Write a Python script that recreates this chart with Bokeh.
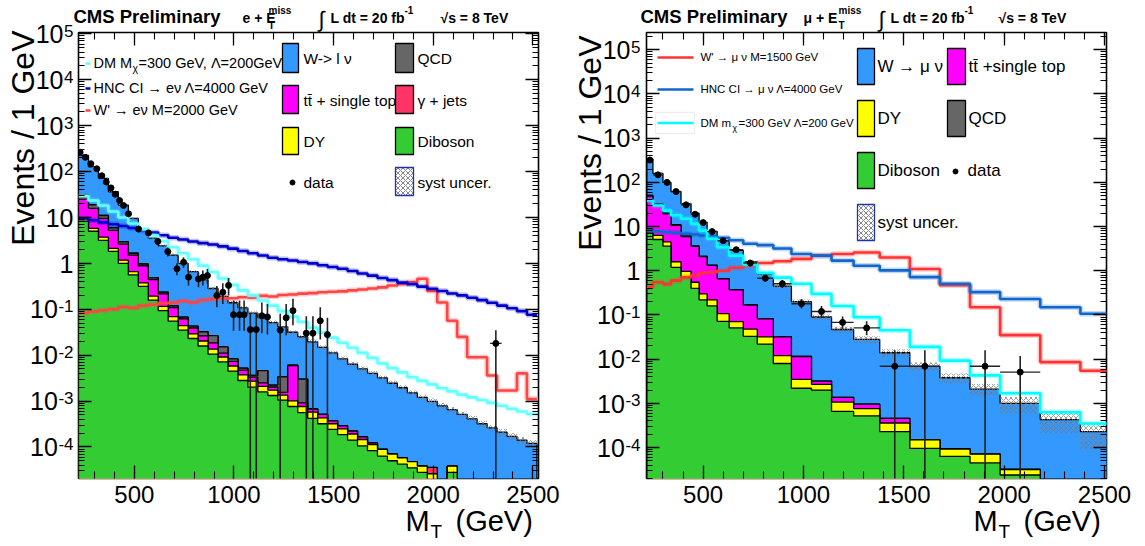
import math
from bokeh.plotting import figure
from bokeh.layouts import row
from bokeh.models import FixedTicker, LogAxis, LinearAxis, Range1d
from bokeh.core.properties import value
from bokeh.embed import file_html
from bokeh.resources import INLINE

FONT = "Liberation Sans"

# ---------------------------------------------------------------- left panel data (e + ETmiss)
L_EDGES = [220, 270, 320, 370, 420, 470, 520, 570, 620, 670, 720, 770, 820, 870, 920, 970,
           1020, 1070, 1120, 1170, 1220, 1270, 1320, 1370, 1420, 1470, 1520, 1570, 1620, 1670,
           1720, 1770, 1820, 1870, 1920, 1970, 2020, 2070, 2120, 2170, 2220, 2270, 2320, 2370,
           2420, 2470, 2520]
L_VV = [8.3, 5.0, 3.16, 1.82, 1.0, 0.56, 0.316, 0.158, 0.093, 0.055, 0.035, 0.023, 0.0158, 0.0105,
        0.0071, 0.0045, 0.0028, 0.0020, 0.00158, 0.00132, 0.00105, 0.00076, 0.00056, 0.00042,
        0.00032, 0.00024, 0.000186, 0.000141, 0.000105, 0.000083, 0.000063, 0.00005, 0.000042,
        0.000035, 0.000028, 0.000018, 0.0, 0.000028, 0, 0, 0, 0, 0, 0, 0, 0]
L_DY = [1.3, 0.8, 0.55, 0.3, 0.17, 0.1, 0.06, 0.035, 0.022, 0.014, 0.009, 0.006, 0.0045, 0.003,
        0.002, 0.0013, 0.0009, 0.0007, 0.0005, 0.0004, 0.0003, 0.00025, 0.0002, 0.00015, 0.00011,
        0.00008, 0.00006, 0.00005, 0.00004, 0.00003, 0.000025, 0.00002, 0.000016, 0.000013,
        0.00001, 0.000008, 0.000006, 0.00001, 0, 0, 0, 0, 0, 0, 0, 0]
L_TT = [15.5, 10.0, 5.8, 3.1, 1.46, 0.85, 0.51, 0.25, 0.10, 0.04, 0.018, 0.010, 0.006, 0.005,
        0.002, 0.0015, 0.001, 0.0006, 0.0004, 0.0003, 0.0002, 0.0049, 0.00015, 0.0001, 0.00008,
        0.00005, 0.00004, 0.00003, 0.00002, 0.00001, 0, 0, 0, 0, 0, 0, 0, 0, 0, 0, 0, 0, 0, 0, 0, 0]
L_QCD = [6, 3, 1.5, 0.7, 0.3, 0.15, 0.08, 0.04, 0.02, 0.01, 0.005, 0.004, 0.006, 0.008, 0.004,
         0.001, 0.0005, 0.0003, 0.0021, 0.0002, 0.0018, 0.0001, 0.0021, 0, 0, 0, 0, 0, 0, 0, 0,
         0, 0, 0, 0, 0, 0, 0, 0, 0, 0, 0, 0, 0, 0, 0]
L_GJ = [0.5, 0.2, 0.1, 0.05, 0.02, 0.01, 0.005, 0.002, 0.001, 0, 0, 0, 0, 0, 0, 0, 0, 0, 0, 0,
        0, 0, 0, 0, 0, 0, 0, 0, 0, 0, 0, 0, 0, 0, 0, 0.00001, 0, 0, 0, 0, 0, 0, 0, 0, 0, 0]
L_W = [192, 107, 59.7, 30.3, 15.6, 7.87, 4.27, 3.06, 2.17, 1.39, 0.933, 0.617, 0.405, 0.256,
       0.176, 0.130, 0.102, 0.079, 0.061, 0.049, 0.038, 0.0255, 0.0221, 0.0188, 0.0143, 0.0108,
       0.0080, 0.0061, 0.00484, 0.00387, 0.0031, 0.00237, 0.00189, 0.00146, 0.00116, 0.00095,
       0.00078, 0.00061, 0.00051, 0.00041, 0.00032, 0.00026, 0.00021, 0.00017, 0.00014, 0.00012]
L_SYST = [0.05, 0.05, 0.05, 0.06, 0.06, 0.06, 0.07, 0.07, 0.07, 0.08, 0.08, 0.08, 0.09, 0.09,
          0.09, 0.10, 0.10, 0.10, 0.10, 0.11, 0.11, 0.11, 0.11, 0.12, 0.12, 0.12, 0.12, 0.13,
          0.13, 0.13, 0.13, 0.14, 0.14, 0.14, 0.14, 0.15, 0.15, 0.15, 0.15, 0.16, 0.16, 0.16,
          0.17, 0.17, 0.18, 0.18]
L_DM = [29.5, 23.4, 18.2, 13.5, 10.0, 7.4, 5.5, 4.07, 3.02, 2.24, 1.66, 1.23, 0.89, 0.645, 0.468,
        0.339, 0.257, 0.20, 0.155, 0.120, 0.091, 0.069, 0.0525, 0.0398, 0.0309, 0.024, 0.0186,
        0.0145, 0.0112, 0.0087, 0.0066, 0.0052, 0.0042, 0.0033, 0.00275, 0.0023, 0.0019,
        0.00162, 0.00138, 0.0012, 0.00105, 0.00091, 0.00079, 0.00068, 0.00059, 0.00052]
L_HNC = [9.5, 8.7, 7.8, 7.1, 6.5, 5.9, 5.2, 4.7, 4.1, 3.6, 3.3, 3.0, 2.75, 2.57, 2.34, 2.09, 1.86,
         1.66, 1.48, 1.32, 1.23, 1.15, 1.07, 1.0, 0.91, 0.83, 0.76, 0.68, 0.60, 0.54, 0.48, 0.43,
         0.38, 0.35, 0.31, 0.28, 0.25, 0.22, 0.20, 0.178, 0.158, 0.138, 0.12, 0.105, 0.091, 0.076]
L_WP = [0.083, 0.089, 0.095, 0.10, 0.112, 0.107, 0.12, 0.126, 0.135, 0.138, 0.151, 0.141, 0.158,
        0.166, 0.17, 0.174, 0.182, 0.178, 0.195, 0.19, 0.204, 0.209, 0.219, 0.224, 0.234, 0.24,
        0.245, 0.257, 0.269, 0.282, 0.30, 0.33, 0.355, 0.39, 0.46, 0.25, 0.14, 0.056, 0.025,
        0.009, 0.009, 0.0036, 0.0017, 0.0017, 0.004, 0.0011]
L_DATA_X = [228, 254, 282, 312, 337, 359, 383, 404, 426, 446, 471, 521, 571, 618, 668, 714, 747,
            772, 822, 844, 867, 914, 944, 973, 998, 1028, 1051, 1082, 1112, 1140, 1168, 1232,
            1262, 1296, 1363, 1396, 1433, 1469, 2314]
L_DATA_Y = [263, 204, 148, 115, 81, 59, 44, 32, 23.4, 18.2, 12.0, 5.6, 4.6, 3.0, 1.8, 0.76, 1.05,
            0.50, 0.457, 0.50, 0.54, 0.20, 0.234, 0.33, 0.076, 0.076, 0.076, 0.036, 0.036, 0.072,
            0.068, 0.035, 0.065, 0.093, 0.030, 0.030, 0.056, 0.028, 0.018]
L_DATA_HI = [270, 210, 152, 119, 84, 62, 46.5, 34, 25, 19.7, 13.2, 6.4, 5.3, 3.5, 2.2, 1.0, 1.35,
             0.7, 0.64, 0.7, 0.75, 0.32, 0.37, 0.48, 0.155, 0.155, 0.155, 0.08, 0.08, 0.14, 0.13,
             0.08, 0.13, 0.17, 0.07, 0.07, 0.11, 0.065, 0.035]
L_DATA_LO = [256, 198, 144, 111, 78, 56, 41.5, 30, 21.8, 16.7, 10.8, 4.8, 3.9, 2.5, 1.4, 0.55, 0.8,
             0.33, 0.3, 0.33, 0.36, 0.11, 0.13, 0.2, 0.034, 0.034, 0.034, 1e-7, 1e-7, 0.03, 0.028,
             1e-7, 0.027, 0.045, 1e-7, 1e-7, 0.022, 1e-7, 1e-7]
L_DATA_XERR = [12, 12, 12, 12, 12, 12, 12, 12, 12, 12, 12, 12, 12, 12, 12, 12, 12, 12, 12, 12, 12,
               12, 12, 12, 12, 12, 12, 12, 12, 12, 12, 12, 12, 12, 12, 12, 12, 12, 29]

# ---------------------------------------------------------------- right panel data (mu + ETmiss)
R_EDGES = [220, 250, 300, 340, 390, 440, 480, 520, 570, 630, 700, 770, 850, 940, 1040, 1140,
           1250, 1380, 1530, 1680, 1830, 1980, 2180, 2380, 2580]
R_VV = [7.2, 5.1, 3.6, 1.2, 0.72, 0.40, 0.22, 0.16, 0.072, 0.051, 0.033, 0.022, 0.008, 0.0022,
        0.002, 6.6e-4, 5.2e-4, 2.3e-4, 9.6e-5, 6.3e-5, 4.5e-5, 2.4e-5, 0, 0]
R_DY = [1.5, 1.2, 0.9, 0.4, 0.25, 0.15, 0.08, 0.06, 0.035, 0.02, 0.015, 0.01, 0.004, 0.0013,
        7e-4, 4.1e-4, 2.4e-4, 1.3e-4, 5.4e-5, 3e-5, 2.6e-5, 8e-6, 0, 0]
R_TT = [40, 25, 15, 9, 5, 3.0, 1.8, 1.1, 0.55, 0.3, 0.12, 0.05, 0.02, 0.008, 0.0005, 0.0003,
        0.0002, 1e-4, 0, 0, 0, 0, 0, 0]
R_QCD = [3, 1.5, 0.8, 0.4, 0.2, 0.1, 0.05, 0.02, 0.01, 0.005, 0.002, 0.001, 0, 0, 0, 0, 0, 0,
         0, 0, 0, 0, 0, 0]
R_W = [288, 127, 79.7, 51, 26.8, 16.4, 10.35, 6.46, 4.13, 2.52, 1.43, 0.767, 0.418, 0.1885,
       0.0868, 0.0456, 0.0270, 0.01354, 0.00675, 0.00371, 0.00203, 0.00097, 0.00043, 0.00023]
R_SYST = [0.05, 0.05, 0.05, 0.05, 0.06, 0.06, 0.06, 0.07, 0.07, 0.08, 0.08, 0.09, 0.10, 0.12,
          0.14, 0.16, 0.18, 0.2, 0.22, 0.25, 0.3, 0.4, 0.5, 0.6]
R_DM = [39, 30, 23, 18, 15, 11.5, 8.1, 5.3, 3.4, 2.2, 1.4, 0.9, 0.7, 0.51, 0.30, 0.16, 0.089,
        0.045, 0.019, 0.0093, 0.0043, 0.0017, 6.3e-4, 3.5e-4]
R_HNC = [8.1, 7.8, 7.5, 7.2, 6.9, 6.6, 6.3, 6.0, 5.6, 4.9, 4.1, 3.8, 3.2, 2.4, 2.2, 1.7, 1.3,
         1.02, 0.72, 0.51, 0.33, 0.23, 0.15, 0.107]
R_WP = [0.43, 0.55, 0.50, 0.60, 0.71, 0.78, 0.89, 0.93, 1.0, 1.17, 1.3, 1.5, 1.65, 1.86, 2.2,
        2.4, 2.6, 2.0, 1.1, 0.47, 0.15, 0.035, 0.0086, 0.0055]
R_DATA_X = [235, 275, 320, 365, 415, 460, 500, 545, 600, 665, 735, 810, 895, 990, 1090, 1195,
            1315, 1455, 1605, 1905, 2080]
R_DATA_XLO = [220, 250, 300, 340, 390, 440, 480, 520, 570, 630, 700, 770, 850, 940, 1040, 1140,
              1250, 1380, 1530, 1830, 1980]
R_DATA_XHI = [250, 300, 340, 390, 440, 480, 520, 570, 630, 700, 770, 850, 940, 1040, 1140, 1250,
              1380, 1530, 1680, 1980, 2180]
R_DATA_Y = [320, 148, 100, 62, 31, 19, 12.3, 7.7, 4.8, 3.0, 1.5, 0.68, 0.51, 0.18, 0.12, 0.068,
            0.051, 0.0069, 0.0069, 0.0069, 0.0051]
R_DATA_HI = [330, 153, 104, 65, 33, 20.5, 13.5, 8.5, 5.4, 3.4, 1.75, 0.8, 0.62, 0.23, 0.16, 0.092,
             0.072, 0.016, 0.016, 0.016, 0.0118]
R_DATA_LO = [310, 143, 96, 59, 29, 17.5, 11.1, 6.9, 4.2, 2.6, 1.25, 0.56, 0.41, 0.14, 0.085,
             0.048, 0.035, 1e-7, 1e-7, 1e-7, 1e-7]

# ---------------------------------------------------------------- colours
C_W = "#3399ff"
C_TT = "#ff00ff"
C_DY = "#ffff00"
C_VV = "#33cc33"
C_QCD = "#666666"
C_GJ = "#ff3366"

FLOOR = 1e-7
Y_MAJOR = [1e-4, 1e-3, 1e-2, 1e-1, 1, 10, 100, 1e3, 1e4, 1e5]
Y_MINOR = [m * 10.0 ** e for e in range(-5, 6) for m in range(2, 10)]
X_MAJOR = [500, 1000, 1500, 2000, 2500]
X_MINOR = list(range(200, 2600, 100))


def stairs(edges, vals):
    xs, ys = [edges[0]], [FLOOR]
    for i, v in enumerate(vals):
        v = v if v > FLOOR else FLOOR
        xs += [edges[i], edges[i + 1]]
        ys += [v, v]
    xs.append(edges[-1])
    ys.append(FLOOR)
    return xs, ys


def step_xy(edges, vals):
    xs, ys = [], []
    for i, v in enumerate(vals):
        v = v if v > FLOOR else FLOOR
        xs += [edges[i], edges[i + 1]]
        ys += [v, v]
    return xs, ys


def style_axis(ax, tick_in=13, minor_in=7):
    ax.axis_line_color = None
    ax.major_tick_in = tick_in
    ax.major_tick_out = 0
    ax.minor_tick_in = minor_in
    ax.minor_tick_out = 0
    ax.major_tick_line_color = "black"
    ax.minor_tick_line_color = "black"
    ax.major_tick_line_width = 1.3
    ax.minor_tick_line_width = 1.1


def hide_labels(ax):
    ax.major_label_text_font_size = "1px"
    ax.major_label_text_color = None
    ax.major_label_standoff = 0


class Panel:
    def __init__(self, fl, ft, fw, fh, xr, yr, bl, br):
        self.fl, self.ft, self.fw, self.fh = fl, ft, fw, fh
        self.x0, self.x1 = xr
        self.l0, self.l1 = math.log10(yr[0]), math.log10(yr[1])
        p = figure(frame_width=fw, frame_height=fh, x_range=Range1d(*xr), y_range=Range1d(*yr),
                   y_axis_type="log", output_backend="svg", toolbar_location=None,
                   min_border_left=bl, min_border_right=br, min_border_top=ft,
                   min_border_bottom=68, background_fill_color="white",
                   border_fill_color="white")
        p.grid.visible = False
        p.outline_line_color = "black"
        p.outline_line_width = 1.6
        yt = FixedTicker(ticks=Y_MAJOR, minor_ticks=Y_MINOR)
        xt = FixedTicker(ticks=X_MAJOR, minor_ticks=X_MINOR)
        bx = p.xaxis[0]
        ly = p.yaxis[0]
        bx.ticker = xt
        ly.ticker = yt
        ra = LogAxis(ticker=yt)
        ta = LinearAxis(ticker=xt)
        p.add_layout(ra, "right")
        p.add_layout(ta, "above")
        for ax in (bx, ta):
            style_axis(ax, 13, 7)
        for ax in (ly, ra):
            style_axis(ax, 13, 6)
        for ax in (ly, ra, ta):
            hide_labels(ax)
        bx.major_label_text_font = FONT
        bx.major_label_text_font_size = "24px"
        bx.major_label_text_color = "black"
        bx.major_label_standoff = 7
        self.p = p

    def X(self, px):
        return self.x0 + (px - self.fl) * (self.x1 - self.x0) / self.fw

    def Y(self, py):
        return 10 ** (self.l1 - (py - self.ft) * (self.l1 - self.l0) / self.fh)

    def PY(self, v):
        return self.ft + (self.l1 - math.log10(v)) * self.fh / (self.l1 - self.l0)

    def txt(self, px, py, s, size, bold=False, align="left", color="black", angle=0.0,
            baseline="alphabetic"):
        # positions are given as baselines; draw centred on the mid-line of the glyphs
        if baseline == "alphabetic":
            py = py - 0.35 * size
            baseline = "middle"
        self.p.text(x=[self.X(px)], y=[self.Y(py)], text=[s], text_font=value(FONT),
                    text_font_size=value("%.1fpx" % size),
                    text_font_style=value("bold" if bold else "normal"),
                    text_align=value(align), text_baseline=value(baseline),
                    text_color=color, angle=angle, level="overlay")

    def box(self, px0, py0, px1, py1, color, hatch=None, line="black"):
        kw = {}
        if hatch:
            kw = dict(hatch_pattern=hatch, hatch_color="#777777", hatch_scale=5,
                      hatch_weight=0.9)
        self.p.quad(left=[self.X(px0)], right=[self.X(px1)], top=[self.Y(py0)],
                    bottom=[self.Y(py1)], fill_color=color, line_color=line, line_width=1.3,
                    **kw)

    def seg(self, px0, py0, px1, py1, color, width, alpha=1.0):
        self.p.line([self.X(px0), self.X(px1)], [self.Y(py0), self.Y(py1)], line_color=color,
                    line_width=width, line_alpha=alpha)

    def dot(self, px, py):
        self.p.scatter([self.X(px)], [self.Y(py)], size=5, color="black")

    def ylabels(self, right_edge):
        for e in range(-4, 6):
            py = self.PY(10.0 ** e)
            if e == 0:
                self.txt(right_edge, py + 9, "1", 25, align="right")
            elif e == 1:
                self.txt(right_edge, py + 9, "10", 25, align="right")
            else:
                ex = str(e)
                w = 9.5 * len(ex.replace("-", "")) + (5.7 if e < 0 else 0)
                self.txt(right_edge, py + 3, ex, 17, align="right")
                self.txt(right_edge - w - 0.5, py + 9, "10", 25, align="right")

    def stack(self, edges, comps, colors):
        run = [0.0] * (len(edges) - 1)
        cums = []
        for c in comps:
            run = [a + b for a, b in zip(run, c)]
            cums.append(run)
        for cum, col in reversed(list(zip(cums, colors))):
            xs, ys = stairs(edges, cum)
            self.p.patch(xs, ys, fill_color=col, line_color="black", line_width=1.3)
        return run

    def band(self, edges, tot, rel):
        self.p.quad(left=edges[:-1], right=edges[1:],
                    top=[t * (1 + r) for t, r in zip(tot, rel)],
                    bottom=[t * (1 - r) for t, r in zip(tot, rel)],
                    fill_alpha=0, line_color=None, hatch_pattern="diagonal_cross",
                    hatch_color="#777777", hatch_scale=5, hatch_weight=0.9, hatch_alpha=0.8)

    def sig(self, edges, vals, color, width=2.6):
        xs, ys = step_xy(edges, vals)
        self.p.line(xs, ys, line_color=color, line_width=width + 3, line_alpha=0.25)
        self.p.line(xs, ys, line_color=color, line_width=width)


# ================================================================= left panel
L = Panel(78, 32, 460, 446, (220, 2528), (2.05e-5, 1.07e5), 78, 30)
tot = L.stack(L_EDGES, [L_VV, L_DY, L_TT, L_QCD, L_GJ, L_W],
              [C_VV, C_DY, C_TT, C_QCD, C_GJ, C_W])
L.band(L_EDGES, tot, L_SYST)
L.sig(L_EDGES, L_WP, "#ff4444")
L.sig(L_EDGES, L_HNC, "#0000cc")
L.sig(L_EDGES, L_DM, "#66ffff")
L.p.segment(x0=L_DATA_X, x1=L_DATA_X, y0=L_DATA_LO, y1=L_DATA_HI, line_color="#222222",
            line_width=1.6)
L.p.segment(x0=[a - b for a, b in zip(L_DATA_X, L_DATA_XERR)],
            x1=[a + b for a, b in zip(L_DATA_X, L_DATA_XERR)], y0=L_DATA_Y, y1=L_DATA_Y,
            line_color="#222222", line_width=1.4)
L.p.scatter(L_DATA_X, L_DATA_Y, size=6, color="black")

# titles
L.txt(73, 22, "CMS Preliminary", 18.5, bold=True)
L.txt(242, 22, "e + E", 14, bold=True)
L.txt(268, 13, "miss", 10, bold=True)
L.txt(268, 28, "T", 10, bold=True)
L.txt(318, 27, "\u222b", 22)
L.txt(330, 22, "L dt = 20 fb", 14, bold=True)
L.txt(404, 13, "-1", 10, bold=True)
L.txt(440, 22, "\u221as = 8 TeV", 14, bold=True)
# axis titles
L.txt(22, 30, "Events / 1 GeV", 32, align="right", baseline="middle", angle=math.pi / 2)
L.txt(405, 531, "M", 29)
L.txt(430, 538, "T", 19)
L.txt(455, 531, "(GeV)", 29)
L.ylabels(73)

# legend: signals
L.seg(85, 63, 90, 63, "#66ffff", 2.5)
L.txt(93, 68, "DM M", 14.5)
L.txt(132, 71, "\u03c7", 10.5)
L.txt(138, 68, "=300 GeV, \u039b=200GeV", 14.5)
L.seg(85, 88, 90, 88, "#0000cc", 2.5)
L.txt(93, 93, "HNC CI \u2192 e\u03bd \u039b=4000 GeV", 14.5)
L.seg(85, 110, 90, 110, "#ff4444", 2.5)
L.txt(93, 115, "W' \u2192 e\u03bd M=2000 GeV", 14.5)
# legend: backgrounds
L.box(282, 43, 298, 72, C_W)
L.txt(303, 63, "W-> l \u03bd", 15.5)
L.box(395, 43, 413, 72, C_QCD)
L.txt(417, 63, "QCD", 15.5)
L.box(282, 85, 298, 113, C_TT)
L.txt(303, 105, "tt\u0304 + single top", 15.5)
L.box(395, 85, 413, 113, C_GJ)
L.txt(417, 105, "\u03b3 + jets", 15.5)
L.box(282, 127, 298, 154, C_DY)
L.txt(303, 146, "DY", 15.5)
L.box(395, 127, 413, 154, C_VV)
L.txt(417, 146, "Diboson", 15.5)
L.dot(292, 182)
L.txt(303, 187, "data", 15.5)
L.box(395, 167, 413, 195, "white", hatch="diagonal_cross", line="#2233aa")
L.txt(417, 187, "syst uncer.", 15.5)

# ================================================================= right panel
R = Panel(646, 32, 460, 446, (218, 2510), (2.0e-5, 2.46e5), 78, 30)
tot_r = R.stack(R_EDGES, [R_VV, R_DY, R_TT, R_QCD, R_W], [C_VV, C_DY, C_TT, C_QCD, C_W])
R.band(R_EDGES, tot_r, R_SYST)
R.sig(R_EDGES, R_WP, "#ff3333")
R.sig(R_EDGES, R_HNC, "#1166cc")
R.sig(R_EDGES, R_DM, "#00ffff")
R.p.segment(x0=R_DATA_X, x1=R_DATA_X, y0=R_DATA_LO, y1=R_DATA_HI, line_color="#222222",
            line_width=1.6)
R.p.segment(x0=R_DATA_XLO, x1=R_DATA_XHI, y0=R_DATA_Y, y1=R_DATA_Y, line_color="#222222",
            line_width=1.4)
R.p.scatter(R_DATA_X, R_DATA_Y, size=6, color="black")

R.txt(640, 22, "CMS Preliminary", 18.5, bold=True)
R.txt(803, 22, "\u03bc + E", 14, bold=True)
R.txt(838, 13, "miss", 10, bold=True)
R.txt(838, 28, "T", 10, bold=True)
R.txt(878, 27, "\u222b", 22)
R.txt(890, 22, "L dt = 20 fb", 14, bold=True)
R.txt(964, 13, "-1", 10, bold=True)
R.txt(998, 22, "\u221as = 8 TeV", 14, bold=True)
R.txt(589, 35, "Events / 1 GeV", 32, align="right", baseline="middle", angle=math.pi / 2)
R.txt(973, 531, "M", 29)
R.txt(998, 538, "T", 19)
R.txt(1023, 531, "(GeV)", 29)
R.ylabels(640)

R.seg(657, 57, 693, 57, "#ff3333", 2.5)
R.txt(700, 61, "W' \u2192 \u03bc \u03bd M=1500 GeV", 11.5)
R.seg(657, 89, 693, 89, "#1166cc", 2.5)
R.txt(700, 93, "HNC CI \u2192 \u03bc \u03bd \u039b=4000 GeV", 11.5)
R.box(655, 112, 694, 133, "white", line="#eeeeee")
R.seg(657, 122.5, 693, 122.5, "#00ffff", 2.5)
R.txt(700, 127, "DM  m", 11.5)
R.txt(732, 130, "\u03c7", 8.5)
R.txt(738, 127, "=300 GeV \u039b=200 GeV", 11.5)
R.box(857, 48, 874, 84, C_W)
R.txt(877, 72, "W \u2192 \u03bc \u03bd", 17)
R.box(947, 48, 965, 84, C_TT)
R.txt(968, 72, "tt\u0304 +single top", 17)
R.box(857, 100, 874, 136, C_DY)
R.txt(877, 124, "DY", 17)
R.box(947, 100, 965, 136, C_QCD)
R.txt(968, 124, "QCD", 17)
R.box(857, 152, 874, 188, C_VV)
R.txt(877, 176, "Diboson", 17)
R.dot(955, 171)
R.txt(967, 176, "data", 17)
R.box(857, 204, 874, 240, "white", hatch="diagonal_cross", line="#2233aa")
R.txt(877, 228, "syst uncer.", 17)

layout = row(L.p, R.p)
open("out.html", "w").write(file_html(layout, INLINE))
